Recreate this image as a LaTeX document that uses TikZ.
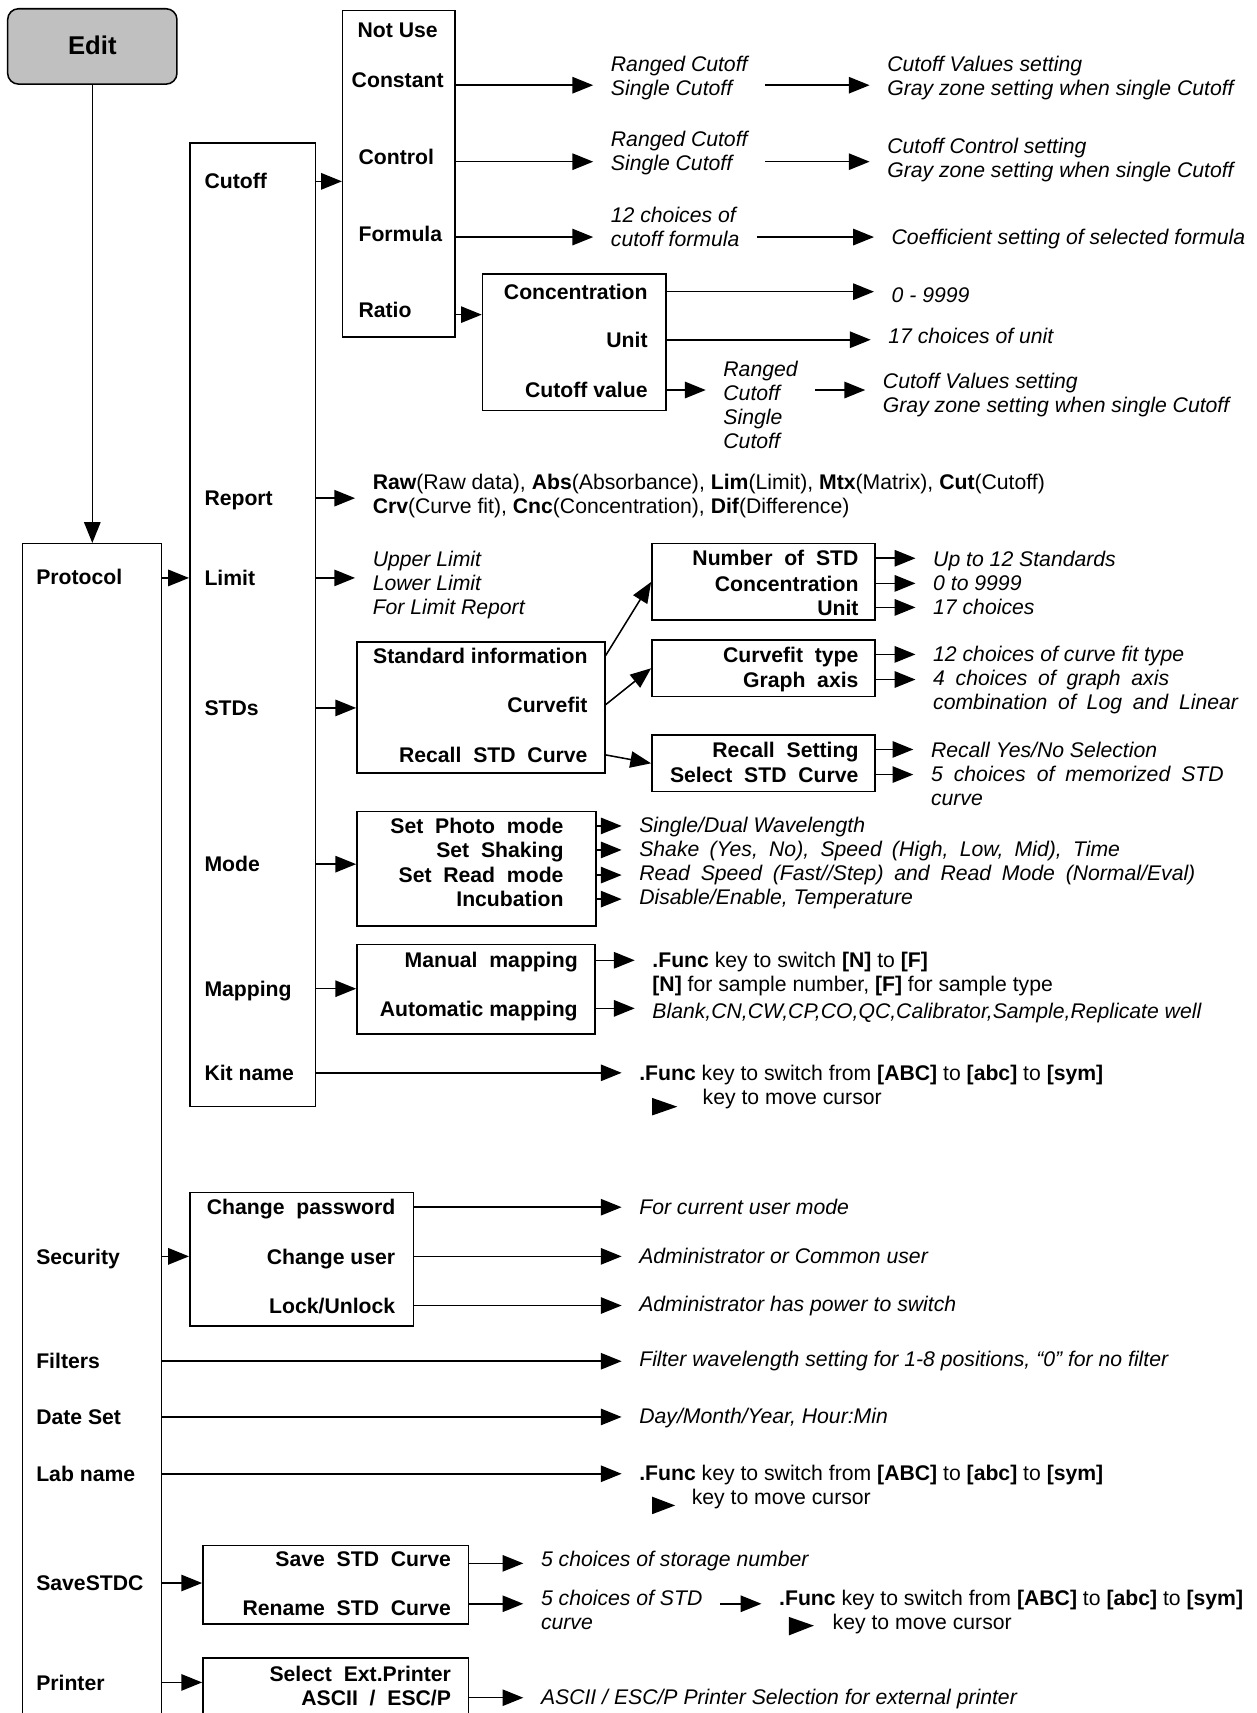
\documentclass[tikz,border=0pt]{standalone}
\usepackage{fontspec}
\setmainfont{Liberation Sans}
\usetikzlibrary{arrows.meta}
\definecolor{editgray}{RGB}{192,192,192}

\begin{document}
\begin{tikzpicture}[x=1pt,y=-1pt,
    font=\fontsize{19.4}{22}\selectfont,
    box/.style={draw,line width=1.4pt,inner sep=0pt,anchor=north west},
    lbl/.style={font=\fontsize{19.4}{22}\selectfont\bfseries,inner sep=0pt,text height=14pt,text depth=0pt},
    desc/.style={font=\fontsize{19.4}{22}\selectfont\itshape,inner xsep=16pt,inner ysep=0pt,anchor=north west,align=left},
    plain/.style={desc,font=\fontsize{19.4}{22}\selectfont},
    arr/.style={line width=1.4pt,-{Triangle[length=19pt,width=15pt]}}]

    % page frame
    \useasboundingbox (0,0) rectangle (1150,1568);
    \clip (0,0) rectangle (1150,1568);

    % boxes
    \node[box,fill=editgray,rounded corners=10pt,minimum width=155pt,minimum height=69pt,anchor=center] (edit) at (84.5,42.5) {\fontsize{23.5}{26}\selectfont\bfseries\raisebox{2pt}{Edit}};
    \node[box,minimum width=127pt,minimum height=1110pt] (protocol) at (20,497) {};
    \node[box,minimum width=115pt,minimum height=882pt] (menu) at (173,130) {};
    \node[box,minimum width=103pt,minimum height=299pt] (cutopt) at (313,9) {};
    \node[box,minimum width=168pt,minimum height=125pt] (ratiobox) at (441,250) {};
    \node[box,minimum width=227pt,minimum height=120pt] (stdbox) at (326,587) {};
    \node[box,minimum width=204pt,minimum height=70pt] (numbox) at (596,497) {};
    \node[box,minimum width=204pt,minimum height=52pt] (fitbox) at (596,585) {};
    \node[box,minimum width=204pt,minimum height=52pt] (recbox) at (596,672) {};
    \node[box,minimum width=219pt,minimum height=105pt] (modebox) at (326,742) {};
    \node[box,minimum width=218pt,minimum height=82pt] (mapbox) at (326,864) {};
    \node[box,minimum width=205pt,minimum height=122pt] (secbox) at (173,1091) {};
    \node[box,minimum width=243pt,minimum height=72pt] (savebox) at (185,1414) {};
    \node[box,minimum width=243pt,minimum height=100pt] (prnbox) at (185,1517) {};

    % first level
    \node[lbl,anchor=west] (protl) at (33,528) {Protocol};
    \node[lbl,anchor=west] (security) at (33,1150) {Security};
    \node[lbl,anchor=west] (filters) at (33,1246) {Filters};
    \node[lbl,anchor=west] (dateset) at (33,1297) {Date Set};
    \node[lbl,anchor=west] (labname) at (33,1349) {Lab name};
    \node[lbl,anchor=west] (savestdc) at (33,1449) {SaveSTDC};
    \node[lbl,anchor=west] (printer) at (33,1540) {Printer};

    % protocol menu
    \node[lbl,anchor=west] (cutoff) at (187,166) {Cutoff};
    \node[lbl,anchor=west] (report) at (187,456) {Report};
    \node[lbl,anchor=west] (limit) at (187,529) {Limit};
    \node[lbl,anchor=west] (stds) at (187,648) {STDs};
    \node[lbl,anchor=west] (mode) at (187,791) {Mode};
    \node[lbl,anchor=west] (mapping) at (187,905) {Mapping};
    \node[lbl,anchor=west] (kitname) at (187,982) {Kit name};

    % cutoff options
    \node[lbl] (notuse) at (364,27) {Not Use};
    \node[lbl] (constant) at (364,73) {Constant};
    \node[lbl,anchor=west] (control) at (328,144) {Control};
    \node[lbl,anchor=west] (formula) at (328,214) {Formula};
    \node[lbl,anchor=west] (ratio) at (328,284) {Ratio};
    \node[lbl,anchor=east] (concl) at (593,267) {Concentration};
    \node[lbl,anchor=east] (unitl) at (593,311) {Unit};
    \node[lbl,anchor=east] (cvall) at (593,357) {Cutoff value};

    \node[desc] (rc1) at (543,51) {Ranged Cutoff\\Single Cutoff};
    \node[desc] (cv1) at (796,51) {Cutoff Values setting\\Gray zone setting when single Cutoff};
    \node[desc] (rc2) at (543,120) {Ranged Cutoff\\Single Cutoff};
    \node[desc] (cv2) at (796,126) {Cutoff Control setting\\Gray zone setting when single Cutoff};
    \node[desc] (fm) at (543,189) {12 choices of\\cutoff formula};
    \node[desc] (coef) at (800,210) {Coefficient setting of selected formula};
    \node[desc] (conc) at (800,263) {0 - 9999};
    \node[desc] (unit) at (797,300) {17 choices of unit};
    \node[desc] (rv) at (646,330) {Ranged\\Cutoff\\Single\\Cutoff};
    \node[desc] (cv3) at (792,341) {Cutoff Values setting\\Gray zone setting when single Cutoff};

    \draw[arr] (menu.east |- cutoff) -- (cutopt.west |- cutoff);
    \draw[arr] ([yshift=-5pt]cutopt.east |- constant) -- ([yshift=-5pt]rc1.west |- constant);
    \draw[arr] ([yshift=-5pt]rc1.east |- constant) -- ([yshift=-5pt]cv1.west |- constant);
    \draw[arr] ([yshift=-4pt]cutopt.east |- control) -- ([yshift=-4pt]rc2.west |- control);
    \draw[arr] ([yshift=-4pt]rc2.east |- control) -- ([yshift=-4pt]cv2.west |- control);
    \draw[arr] ([yshift=-3pt]cutopt.east |- formula) -- ([yshift=-3pt]fm.west |- formula);
    \draw[arr] ([yshift=-3pt]fm.east |- formula) -- ([yshift=-3pt]coef.west |- formula);
    \draw[arr] ([yshift=-4pt]cutopt.east |- ratio) -- ([yshift=-4pt]ratiobox.west |- ratio);
    \draw[arr] (ratiobox.east |- concl) -- (conc.west |- concl);
    \draw[arr] (ratiobox.east |- unitl) -- (unit.west |- unitl);
    \draw[arr] (ratiobox.east |- cvall) -- (rv.west |- cvall);
    \draw[arr] (rv.east |- cvall) -- (cv3.west |- cvall);

    % report, limit
    \node[plain] (rep) at (325,434) {\textbf{Raw}(Raw data), \textbf{Abs}(Absorbance), \textbf{Lim}(Limit), \textbf{Mtx}(Matrix), \textbf{Cut}(Cutoff)\\\textbf{Crv}(Curve fit), \textbf{Cnc}(Concentration), \textbf{Dif}(Difference)};
    \node[desc] (lim) at (325,504) {Upper Limit\\Lower Limit\\For Limit Report};
    \draw[arr] (menu.east |- report) -- (rep.west |- report);
    \draw[arr] (menu.east |- limit) -- (lim.west |- limit);
    \draw[arr] (protocol.east |- limit) -- (menu.west |- limit);

    % standards
    \node[lbl,anchor=east] (stdinfo) at (538,600) {Standard information};
    \node[lbl,anchor=east] (curvefit) at (538,645) {Curvefit};
    \node[lbl,anchor=east] (recall) at (538,691) {Recall~~STD~~Curve};
    \node[lbl,anchor=east] (nstd) at (786,511) {Number~~of~~STD};
    \node[lbl,anchor=east] (nconc) at (786,534) {Concentration};
    \node[lbl,anchor=east] (nunit) at (786,556) {Unit};
    \node[lbl,anchor=east] (fitl) at (786,599) {Curvefit~~type};
    \node[lbl,anchor=east] (axisl) at (786,622) {Graph~~axis};
    \node[lbl,anchor=east] (recset) at (786,686) {Recall~~Setting};
    \node[lbl,anchor=east] (selstd) at (786,709) {Select~~STD~~Curve};

    \node[desc] (numd) at (838,504) {Up to 12 Standards\\0 to 9999\\17 choices};
    \node[desc] (fitd) at (838,591) {12 choices of curve fit type\\\makebox[216pt][s]{4 choices of graph axis}\\\makebox[279pt][s]{combination of Log and Linear}};
    \node[desc] (recd) at (836,679) {Recall Yes/No Selection\\\makebox[268pt][s]{5 choices of memorized STD}\\curve};

    \draw[arr] (menu.east |- stds) -- (stdbox.west |- stds);
    \draw[arr] (stdbox.east |- stdinfo) -- (numbox.west);
    \draw[arr] (stdbox.east |- curvefit) -- (fitbox.west);
    \draw[arr] (stdbox.east |- recall) -- (recbox.west);
    \foreach \l in {nstd,nconc,nunit}
        \draw[arr] (numbox.east |- \l) -- (numd.west |- \l);
    \foreach \l in {fitl,axisl}
        \draw[arr] (fitbox.east |- \l) -- (fitd.west |- \l);
    \foreach \l in {recset,selstd}
        \draw[arr] (recbox.east |- \l) -- (recd.west |- \l);

    % mode
    \node[lbl,anchor=east] (photo) at (516,756) {Set~~Photo~~mode};
    \node[lbl,anchor=east] (shake) at (516,778) {Set~~Shaking};
    \node[lbl,anchor=east] (readm) at (516,801) {Set~~Read~~mode};
    \node[lbl,anchor=east] (incub) at (516,823) {Incubation};
    \node[desc] (moded) at (569,748) {Single/Dual Wavelength\\\makebox[440pt][s]{Shake (Yes, No), Speed (High, Low, Mid), Time}\\\makebox[509pt][s]{Read Speed (Fast//Step) and Read Mode (Normal/Eval)}\\Disable/Enable, Temperature};
    \draw[arr] (menu.east |- mode) -- (modebox.west |- mode);
    \foreach \l in {photo,shake,readm,incub}
        \draw[arr] (modebox.east |- \l) -- (moded.west |- \l);

    % mapping
    \node[lbl,anchor=east] (manual) at (529,879) {Manual~~mapping};
    \node[lbl,anchor=east] (automap) at (529,923) {Automatic mapping};
    \node[plain] (mapd) at (581,871) {\textbf{.Func} key to switch \textbf{[N]} to \textbf{[F]}\\\textbf{[N]} for sample number, \textbf{[F]} for sample type};
    \node[desc] (blank) at (581,918) {Blank,CN,CW,CP,CO,QC,Calibrator,Sample,Replicate well};
    \draw[arr] (menu.east |- mapping) -- (mapbox.west |- mapping);
    \draw[arr] (mapbox.east |- manual) -- (mapd.west |- manual);
    \draw[arr] (mapbox.east |- automap) -- (blank.west |- automap);

    % kit name
    \node[plain] (kitd) at (569,975) {\textbf{.Func} key to switch from \textbf{[ABC]} to \textbf{[abc]} to \textbf{[sym]}\\\hspace*{58pt}key to move cursor};
    \draw[arr] (menu.east |- kitname) -- (kitd.west |- kitname);
    \fill (597,1005) -- (620,1013) -- (597,1021) -- cycle;

    % security
    \node[lbl,anchor=east] (chpwd) at (362,1105) {Change~~password};
    \node[lbl,anchor=east] (chuser) at (362,1150) {Change user};
    \node[lbl,anchor=east] (lock) at (362,1195) {Lock/Unlock};
    \node[desc] (pwdd) at (569,1097) {For current user mode};
    \node[desc] (userd) at (569,1142) {Administrator or Common user};
    \node[desc] (lockd) at (569,1186) {Administrator has power to switch};
    \draw[arr] (protocol.east |- security) -- (secbox.west |- security);
    \draw[arr] (secbox.east |- chpwd) -- (pwdd.west |- chpwd);
    \draw[arr] (secbox.east |- chuser) -- (userd.west |- chuser);
    \draw[arr] (secbox.east |- lock) -- (lockd.west |- lock);

    % filters, date, lab name
    \node[desc] (fild) at (569,1237) {Filter wavelength setting for 1-8 positions, “0” for no filter};
    \node[desc] (dated) at (569,1289) {Day/Month/Year, Hour:Min};
    \node[plain] (labd) at (569,1341) {\textbf{.Func} key to switch from \textbf{[ABC]} to \textbf{[abc]} to \textbf{[sym]}\\\hspace*{48pt}key to move cursor};
    \draw[arr] (protocol.east |- filters) -- (fild.west |- filters);
    \draw[arr] (protocol.east |- dateset) -- (dated.west |- dateset);
    \draw[arr] (protocol.east |- labname) -- (labd.west |- labname);
    \fill (597,1370) -- (618,1378) -- (597,1386) -- cycle;

    % save std curve
    \node[lbl,anchor=east] (savel) at (413,1427) {Save~~STD~~Curve};
    \node[lbl,anchor=east] (renamel) at (413,1472) {Rename~~STD~~Curve};
    \node[desc] (saved1) at (479,1420) {5 choices of storage number};
    \node[desc] (saved2) at (479,1455) {5 choices of STD\\curve};
    \node[plain] (saved3) at (697,1455) {\textbf{.Func} key to switch from \textbf{[ABC]} to \textbf{[abc]} to \textbf{[sym]}\\\hspace*{49pt}key to move cursor};
    \draw[arr] (protocol.east |- savestdc) -- (savebox.west |- savestdc);
    \draw[arr] ([yshift=-4pt]savebox.east |- savel) -- ([yshift=-4pt]saved1.west |- savel);
    \draw[arr] ([yshift=4pt]savebox.east |- renamel) -- ([yshift=4pt]saved2.west |- renamel);
    \draw[arr] ([yshift=4pt]saved2.east |- renamel) -- ([yshift=4pt]saved3.west |- renamel);
    \fill (722,1480) -- (745,1488) -- (722,1497) -- cycle;

    % printer
    \node[lbl,anchor=east] (extp) at (413,1532) {Select~~Ext.Printer};
    \node[lbl,anchor=east] (asciil) at (413,1554) {ASCII~~/~~ESC/P};
    \node[desc] (prnd) at (479,1546) {ASCII / ESC/P Printer Selection for external printer};
    \draw[arr] (protocol.east |- printer) -- (prnbox.west |- printer);
    \draw[arr] (prnbox.east |- asciil) -- (prnd.west |- asciil);

    % edit to protocol
    \draw[arr] (edit.south) -- (edit.south |- protocol.north);

\end{tikzpicture}
\end{document}
